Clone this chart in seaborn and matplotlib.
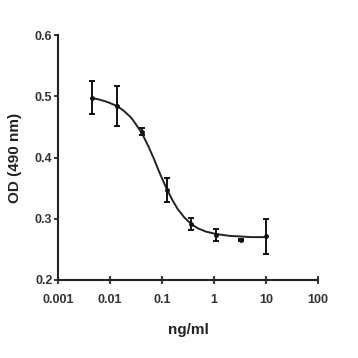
import numpy as np
import pandas as pd
import matplotlib
matplotlib.use("Agg")
import matplotlib.pyplot as plt
import seaborn as sns

# measured points (3-fold dilution series)
conc = [0.0046, 0.0137, 0.041, 0.123, 0.37, 1.11, 3.33, 10.0]
od_mean = [0.498, 0.484, 0.442, 0.347, 0.291, 0.273, 0.265, 0.271]
od_err = [0.027, 0.033, 0.006, 0.020, 0.010, 0.010, 0.002, 0.028]

# fitted curve
curve_x = [0.0046, 0.006, 0.008, 0.01, 0.0137, 0.018, 0.025, 0.03, 0.041, 0.055,
           0.07, 0.09, 0.123, 0.16, 0.2, 0.27, 0.37, 0.5, 0.7, 1.11, 2.0, 3.33, 5.0, 10.0]
curve_y = [0.497, 0.495, 0.492, 0.489, 0.484, 0.477, 0.466, 0.457, 0.440, 0.418,
           0.398, 0.375, 0.349, 0.330, 0.316, 0.302, 0.291, 0.284, 0.279, 0.275,
           0.272, 0.271, 0.270, 0.270]

tick_vals = [0.001, 0.01, 0.1, 1, 10, 100]
tick_labels = ["0.001", "0.01", "0.1", "1", "10", "100"]
ytick_vals = [0.2, 0.3, 0.4, 0.5, 0.6]
ytick_labels = ["0.2", "0.3", "0.4", "0.5", "0.6"]

sns.set_style("ticks")
plt.rcParams["font.family"] = ["Liberation Sans", "DejaVu Sans"]

fig, ax = plt.subplots(figsize=(3.58, 3.58), dpi=100)
fig.subplots_adjust(left=0.162, right=0.888, bottom=0.218, top=0.902)

df_curve = pd.DataFrame({"x": curve_x, "y": curve_y})
sns.lineplot(data=df_curve, x="x", y="y", ax=ax, color="#222222", linewidth=1.4)
ax.errorbar(conc, od_mean, yerr=od_err, fmt="o", color="#111111", markersize=2.5,
            elinewidth=1.4, capsize=2.5, capthick=1.4)

ax.set_xscale("log")
ax.set_xlim(0.001, 100)
ax.set_ylim(0.2, 0.6)
ax.set_xticks(tick_vals)
ax.set_xticklabels(tick_labels)
ax.set_yticks(ytick_vals)
ax.set_yticklabels(ytick_labels)
ax.minorticks_off()
ax.tick_params(axis="x", direction="inout", length=6, width=1.3, labelsize=9, pad=7)
ax.tick_params(axis="y", direction="out", length=3, width=1.3, labelsize=9, pad=1)
for lbl in ax.get_xticklabels() + ax.get_yticklabels():
    lbl.set_fontweight("bold")
    lbl.set_color("#333333")

sns.despine(ax=ax)
for s in ["left", "bottom"]:
    ax.spines[s].set_linewidth(1.5)
    ax.spines[s].set_color("#222222")

ax.set_xlabel("ng/ml", fontsize=11, fontweight="bold", color="#222222", labelpad=12)
ax.set_ylabel("OD (490 nm)", fontsize=11, fontweight="bold", color="#222222", labelpad=9)

fig.savefig("out.png", dpi=100, facecolor="white")
